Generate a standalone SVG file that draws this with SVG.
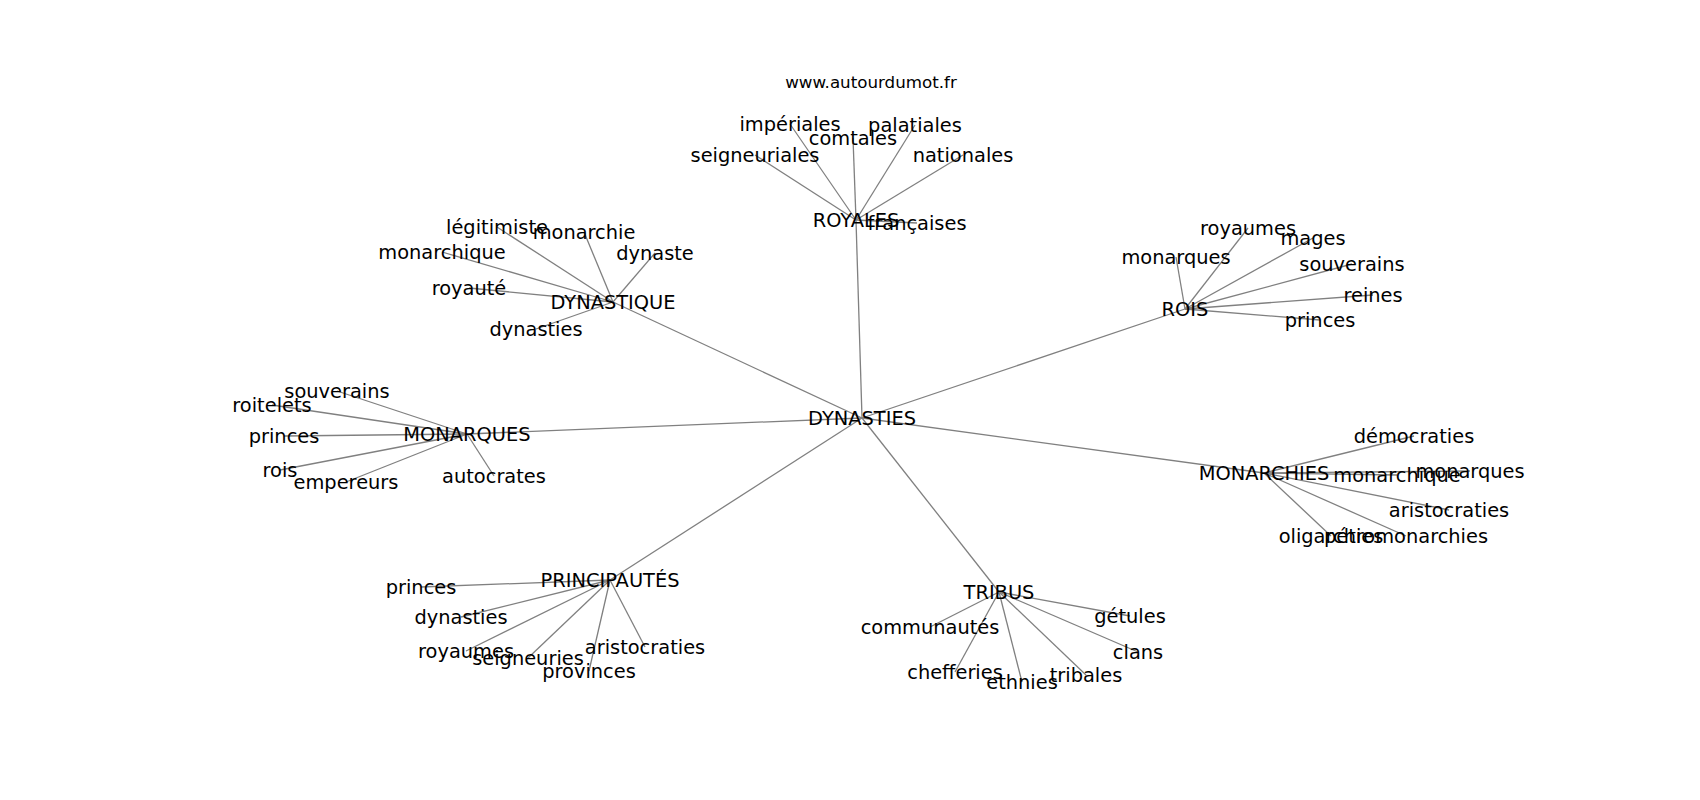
<svg xmlns="http://www.w3.org/2000/svg" width="1700" height="800" viewBox="0 0 1700 800">
<style>
text{font-family:"DejaVu Sans","Liberation Sans",sans-serif;font-size:19.4px;fill:#000;text-anchor:middle}
.title{font-size:16.7px}
#edges line{stroke:#808080;stroke-width:1.3}
</style>
<rect width="1700" height="800" fill="#fff"/>
<g id="edges">
<line x1="862" y1="418" x2="856" y2="220"/>
<line x1="862" y1="418" x2="1185" y2="309"/>
<line x1="862" y1="418" x2="1264" y2="473"/>
<line x1="862" y1="418" x2="467" y2="434"/>
<line x1="862" y1="418" x2="613" y2="302"/>
<line x1="862" y1="418" x2="610" y2="580"/>
<line x1="862" y1="418" x2="999" y2="592"/>
<line x1="856" y1="220" x2="790" y2="124"/>
<line x1="856" y1="220" x2="853" y2="138"/>
<line x1="856" y1="220" x2="915" y2="125"/>
<line x1="856" y1="220" x2="755" y2="155"/>
<line x1="856" y1="220" x2="963" y2="155"/>
<line x1="856" y1="220" x2="917" y2="223"/>
<line x1="1185" y1="309" x2="1248" y2="228"/>
<line x1="1185" y1="309" x2="1313" y2="238"/>
<line x1="1185" y1="309" x2="1176" y2="257"/>
<line x1="1185" y1="309" x2="1352" y2="264"/>
<line x1="1185" y1="309" x2="1373" y2="295"/>
<line x1="1185" y1="309" x2="1320" y2="320"/>
<line x1="1264" y1="473" x2="1414" y2="436"/>
<line x1="1264" y1="473" x2="1397" y2="475"/>
<line x1="1264" y1="473" x2="1470" y2="471"/>
<line x1="1264" y1="473" x2="1449" y2="510"/>
<line x1="1264" y1="473" x2="1331" y2="536"/>
<line x1="1264" y1="473" x2="1406" y2="536"/>
<line x1="467" y1="434" x2="337" y2="391"/>
<line x1="467" y1="434" x2="272" y2="405"/>
<line x1="467" y1="434" x2="284" y2="436"/>
<line x1="467" y1="434" x2="280" y2="470"/>
<line x1="467" y1="434" x2="346" y2="482"/>
<line x1="467" y1="434" x2="494" y2="476"/>
<line x1="613" y1="302" x2="497" y2="227"/>
<line x1="613" y1="302" x2="584" y2="232"/>
<line x1="613" y1="302" x2="442" y2="252"/>
<line x1="613" y1="302" x2="655" y2="253"/>
<line x1="613" y1="302" x2="469" y2="288"/>
<line x1="613" y1="302" x2="536" y2="329"/>
<line x1="610" y1="580" x2="421" y2="587"/>
<line x1="610" y1="580" x2="461" y2="617"/>
<line x1="610" y1="580" x2="466" y2="651"/>
<line x1="610" y1="580" x2="528" y2="658"/>
<line x1="610" y1="580" x2="645" y2="647"/>
<line x1="610" y1="580" x2="589" y2="671"/>
<line x1="999" y1="592" x2="1130" y2="616"/>
<line x1="999" y1="592" x2="930" y2="627"/>
<line x1="999" y1="592" x2="1138" y2="652"/>
<line x1="999" y1="592" x2="955" y2="672"/>
<line x1="999" y1="592" x2="1022" y2="682"/>
<line x1="999" y1="592" x2="1086" y2="675"/>
</g>
<g id="title"><text class="title" x="871" y="88">www.autourdumot.fr</text></g>
<g id="n-dynasties"><text x="862" y="425">DYNASTIES</text></g>
<g id="n-royales"><text x="856" y="227">ROYALES</text></g>
<g id="n-imperiales"><text x="790" y="131">impériales</text></g>
<g id="n-comtales"><text x="853" y="145">comtales</text></g>
<g id="n-palatiales"><text x="915" y="132">palatiales</text></g>
<g id="n-seigneuriales"><text x="755" y="162">seigneuriales</text></g>
<g id="n-nationales"><text x="963" y="162">nationales</text></g>
<g id="n-francaises"><text x="917" y="230">françaises</text></g>
<g id="n-rois"><text x="1185" y="316">ROIS</text></g>
<g id="n-royaumes1"><text x="1248" y="235">royaumes</text></g>
<g id="n-mages"><text x="1313" y="245">mages</text></g>
<g id="n-monarques1"><text x="1176" y="264">monarques</text></g>
<g id="n-souverains1"><text x="1352" y="271">souverains</text></g>
<g id="n-reines"><text x="1373" y="302">reines</text></g>
<g id="n-princes1"><text x="1320" y="327">princes</text></g>
<g id="n-monarchies"><text x="1264" y="480">MONARCHIES</text></g>
<g id="n-democraties"><text x="1414" y="443">démocraties</text></g>
<g id="n-monarchique1"><text x="1397" y="482">monarchique</text></g>
<g id="n-monarques2"><text x="1470" y="478">monarques</text></g>
<g id="n-aristocraties1"><text x="1449" y="517">aristocraties</text></g>
<g id="n-oligarchies"><text x="1331" y="543">oligarchies</text></g>
<g id="n-petromonarchies"><text x="1406" y="543">pétromonarchies</text></g>
<g id="n-monarques"><text x="467" y="441">MONARQUES</text></g>
<g id="n-souverains2"><text x="337" y="398">souverains</text></g>
<g id="n-roitelets"><text x="272" y="412">roitelets</text></g>
<g id="n-princes2"><text x="284" y="443">princes</text></g>
<g id="n-rois2"><text x="280" y="477">rois</text></g>
<g id="n-empereurs"><text x="346" y="489">empereurs</text></g>
<g id="n-autocrates"><text x="494" y="483">autocrates</text></g>
<g id="n-dynastique"><text x="613" y="309">DYNASTIQUE</text></g>
<g id="n-legitimiste"><text x="497" y="234">légitimiste</text></g>
<g id="n-monarchie"><text x="584" y="239">monarchie</text></g>
<g id="n-monarchique2"><text x="442" y="259">monarchique</text></g>
<g id="n-dynaste"><text x="655" y="260">dynaste</text></g>
<g id="n-royaute"><text x="469" y="295">royauté</text></g>
<g id="n-dynasties2"><text x="536" y="336">dynasties</text></g>
<g id="n-principautes"><text x="610" y="587">PRINCIPAUTÉS</text></g>
<g id="n-princes3"><text x="421" y="594">princes</text></g>
<g id="n-dynasties3"><text x="461" y="624">dynasties</text></g>
<g id="n-royaumes2"><text x="466" y="658">royaumes</text></g>
<g id="n-seigneuries"><text x="528" y="665">seigneuries</text></g>
<g id="n-aristocraties2"><text x="645" y="654">aristocraties</text></g>
<g id="n-provinces"><text x="589" y="678">provinces</text></g>
<g id="n-tribus"><text x="999" y="599">TRIBUS</text></g>
<g id="n-getules"><text x="1130" y="623">gétules</text></g>
<g id="n-communautes"><text x="930" y="634">communautés</text></g>
<g id="n-clans"><text x="1138" y="659">clans</text></g>
<g id="n-chefferies"><text x="955" y="679">chefferies</text></g>
<g id="n-ethnies"><text x="1022" y="689">ethnies</text></g>
<g id="n-tribales"><text x="1086" y="682">tribales</text></g>
</svg>
